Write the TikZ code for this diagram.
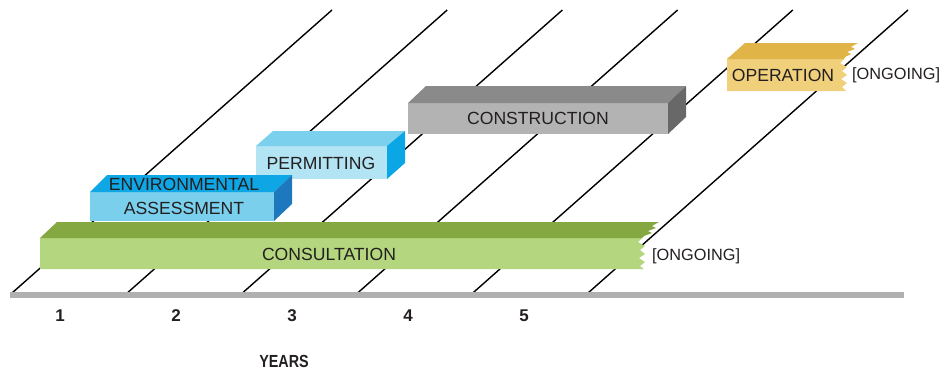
\documentclass[tikz,border=0pt]{standalone}
\usepackage{fontspec}
\setmainfont{Liberation Sans}
\newfontfamily\condfont[FakeStretch=0.82]{Liberation Sans}
\definecolor{txt}{HTML}{231F20}
\definecolor{basegray}{HTML}{B0B0B0}
\definecolor{consF}{HTML}{B3D67E}
\definecolor{consT}{HTML}{86A843}
\definecolor{envF}{HTML}{7AD0EC}
\definecolor{envT}{HTML}{0EA6E5}
\definecolor{envS}{HTML}{1E78BE}
\definecolor{perF}{HTML}{B2E4F3}
\definecolor{perT}{HTML}{7BD0ED}
\definecolor{perS}{HTML}{0AA6E6}
\definecolor{conF}{HTML}{B3B3B3}
\definecolor{conT}{HTML}{8A8A8A}
\definecolor{conS}{HTML}{686868}
\definecolor{opF}{HTML}{F1D07C}
\definecolor{opT}{HTML}{E0B446}
\tikzset{
  gridline/.style={black, line width=1.4pt},
  label/.style={inner sep=0pt, text=txt, font=\fontsize{17.6}{20}\selectfont},
  note/.style={inner sep=0pt, text=txt, font=\fontsize{16.3}{18}\selectfont, anchor=west},
  yearnum/.style={inner sep=0pt, text=txt, font=\bfseries\fontsize{17}{19}\selectfont},
  yearlbl/.style={inner sep=0pt, text=txt, font=\condfont\bfseries\fontsize{17.5}{19}\selectfont}
}
\begin{document}
\begin{tikzpicture}[x=1pt,y=-1pt]
\useasboundingbox (0,0) rectangle (942,373);
% diagonal grid lines
\foreach \k in {0,...,5}{
  \draw[gridline] (12+115.2*\k,293) coordinate (b\k) -- (332+115.2*\k,10) coordinate (t\k);
}
% baseline
\fill[basegray] (10,292) rectangle (904,298);
% construction
\fill[conF] (408,103) rectangle (668,134);
\fill[conT] (408,103) -- (426,86) -- (686,86) -- (668,103) -- cycle;
\fill[conS] (668,103) -- (686,86) -- (686,117) -- (668,134) -- cycle;
\node[label] (construction) at (538,118) {CONSTRUCTION};
% permitting
\fill[perF] (256,146) rectangle (387,179);
\fill[perT] (256,146) -- (273,131) -- (405,131) -- (387,146) -- cycle;
\fill[perS] (387,146) -- (405,131) -- (405,163) -- (387,179) -- cycle;
\node[label] (permitting) at (321,163) {PERMITTING};
% environmental assessment
\fill[envF] (90,192) rectangle (274,221);
\fill[envT] (90,192) -- (107,175) -- (292,175) -- (274,192) -- cycle;
\fill[envS] (274,192) -- (292,175) -- (292,204) -- (274,221) -- cycle;
\node[label] (env1) at (184,184.5) {ENVIRONMENTAL};
\node[label] (env2) at (184,208.5) {ASSESSMENT};
% consultation
\fill[consF] (40,238) -- (642,238) -- (638,242) -- (645,246) -- (640,250) -- (645,254)
  -- (639,258) -- (645,262) -- (640,266) -- (644,269) -- (40,269) -- cycle;
\fill[consT] (40,238) -- (57,222) -- (659,222) -- (652,226) -- (656,228) -- (648,231)
  -- (652,233) -- (644,236) -- (642,238) -- cycle;
\node[label] (consultation) at (329,254) {CONSULTATION};
\node[note] (ongoing1) at (652,256) {[ONGOING]};
% operation
\fill[opF] (727,59) -- (844,59) -- (840,63) -- (847,67) -- (842,71) -- (847,75)
  -- (841,79) -- (847,83) -- (842,87) -- (846,91) -- (727,91) -- cycle;
\fill[opT] (727,59) -- (745,43) -- (858,43) -- (851,47) -- (855,49) -- (847,52)
  -- (851,54) -- (845,57) -- (844,59) -- cycle;
\node[label] (operation) at (783,75) {OPERATION};
\node[note] (ongoing2) at (852,75.5) {[ONGOING]};
% years
\node[yearnum] (y1) at (60,316) {1};
\node[yearnum] (y2) at (176,316) {2};
\node[yearnum] (y3) at (292,316) {3};
\node[yearnum] (y4) at (408,316) {4};
\node[yearnum] (y5) at (524,316) {5};
\node[yearlbl] (years) at (284,361.5) {YEARS};
\end{tikzpicture}
\end{document}
